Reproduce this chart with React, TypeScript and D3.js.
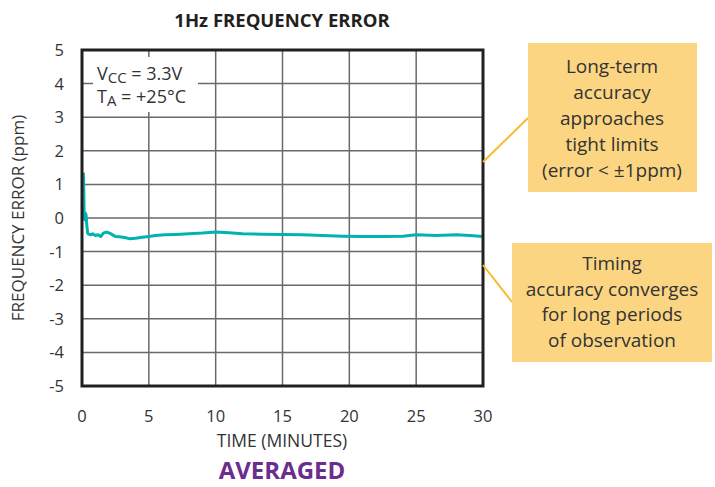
import * as d3 from 'd3';

const W = 715;
const H = 487;
const M = { left: 82, right: 483, top: 50, bottom: 386 };

const xScale = d3.scaleLinear([0, 30], [M.left, M.right]);
const yScale = d3.scaleLinear([-5, 5], [M.bottom, M.top]);

const xTicks = [0, 5, 10, 15, 20, 25, 30];
const yTicks = [5, 4, 3, 2, 1, 0, -1, -2, -3, -4, -5];

// averaged 1Hz frequency error (minutes, ppm)
const minutes = [
  0.1, 0.13, 0.16, 0.2, 0.25, 0.3, 0.36, 0.42, 0.5, 0.65, 0.8, 1.0, 1.2, 1.4, 1.6, 1.8, 2.0, 2.2,
  2.5, 2.8, 3.2, 3.6, 4.0, 4.5, 5.0, 5.5, 6.2, 7.0, 8.0, 9.0, 10.0, 11.0, 12.0, 13.5, 15.0, 16.5,
  18.0, 19.5, 21.0, 22.5, 24.0, 25.0, 26.5, 28.0, 29.0, 30.0,
];
const ppm = [
  1.35, 0.9, 0.1, -0.05, 0.15, 0.1, -0.2, -0.45, -0.48, -0.5, -0.47, -0.52, -0.5, -0.55, -0.45,
  -0.42, -0.44, -0.48, -0.55, -0.56, -0.58, -0.62, -0.6, -0.57, -0.55, -0.52, -0.5, -0.49, -0.47,
  -0.45, -0.42, -0.44, -0.47, -0.48, -0.49, -0.5, -0.52, -0.54, -0.55, -0.55, -0.54, -0.5, -0.52,
  -0.5, -0.52, -0.55,
];

const noteTop = ['Long-term', 'accuracy', 'approaches', 'tight limits', '(error < ±1ppm)'];
const noteBottom = ['Timing', 'accuracy converges', 'for long periods', 'of observation'];

const FONT = '"Open Sans", sans-serif';
const TXT = '#333333';

export default function App() {
  const pts = minutes.map((m, i) => [m, ppm[i]] as [number, number]);
  const line = d3.line<[number, number]>().x(d => xScale(d[0])).y(d => yScale(d[1]));

  return (
    <svg width={W} height={H} style={{ position: 'absolute', left: 0, top: 0, background: '#fff' }}
      fontFamily={FONT}>
      <text x={282} y={27} textAnchor="middle" fontSize={18.5} fontWeight={700} fill="#231f20">
        1Hz FREQUENCY ERROR
      </text>

      {/* grid */}
      {xTicks.slice(1, -1).map(t => (
        <line key={'gx' + t} x1={xScale(t)} x2={xScale(t)} y1={M.top} y2={M.bottom}
          stroke="#6a6a6a" strokeWidth={1.5} />
      ))}
      {yTicks.slice(1, -1).map(t => (
        <line key={'gy' + t} x1={M.left} x2={M.right} y1={yScale(t)} y2={yScale(t)}
          stroke="#6a6a6a" strokeWidth={1.5} />
      ))}

      {/* conditions box */}
      <rect x={93} y={57} width={105} height={55} fill="#fff" />
      <text x={97} y={80} fontSize={18} fill={TXT}>
        V<tspan fontSize={15} dy={3}>CC</tspan><tspan dy={-3}> = 3.3V</tspan>
      </text>
      <text x={97} y={103} fontSize={18} fill={TXT}>
        T<tspan fontSize={15} dy={3}>A</tspan><tspan dy={-3}> = +25°C</tspan>
      </text>

      <path d={line(pts) ?? ''} fill="none" stroke="#00b2b0" strokeWidth={3} strokeLinejoin="round" />

      <rect x={M.left} y={M.top} width={M.right - M.left} height={M.bottom - M.top}
        fill="none" stroke="#231f20" strokeWidth={3} />

      {/* tick labels */}
      {yTicks.map(t => (
        <text key={'yl' + t} x={64} y={yScale(t) + 6} textAnchor="end" fontSize={16.5} fill={TXT}>
          {t}
        </text>
      ))}
      {xTicks.map(t => (
        <text key={'xl' + t} x={xScale(t)} y={422} textAnchor="middle" fontSize={16.5} fill={TXT}>
          {t}
        </text>
      ))}
      <text x={282} y={447} textAnchor="middle" fontSize={17.5} fill={TXT}>TIME (MINUTES)</text>
      <text transform={`translate(24,${yScale(0)}) rotate(-90)`} textAnchor="middle" fontSize={17} fill={TXT}>
        FREQUENCY ERROR (ppm)
      </text>
      <text x={282} y={479} textAnchor="middle" fontSize={24} fontWeight={700} fill="#6b2d8f">
        AVERAGED
      </text>

      {/* callouts */}
      <line x1={483} y1={162} x2={528} y2={118} stroke="#f6bd2a" strokeWidth={2} />
      <rect x={528} y={43} width={169} height={149} fill="#fcd582" />
      {noteTop.map((s, i) => (
        <text key={s} x={612} y={73 + i * 26} textAnchor="middle" fontSize={19} fill={TXT}>{s}</text>
      ))}
      <line x1={483} y1={265} x2={512} y2={302} stroke="#f6bd2a" strokeWidth={2} />
      <rect x={512} y={243} width={200} height={119} fill="#fcd582" />
      {noteBottom.map((s, i) => (
        <text key={s} x={612} y={270 + i * 25.5} textAnchor="middle" fontSize={19} fill={TXT}>{s}</text>
      ))}
    </svg>
  );
}
